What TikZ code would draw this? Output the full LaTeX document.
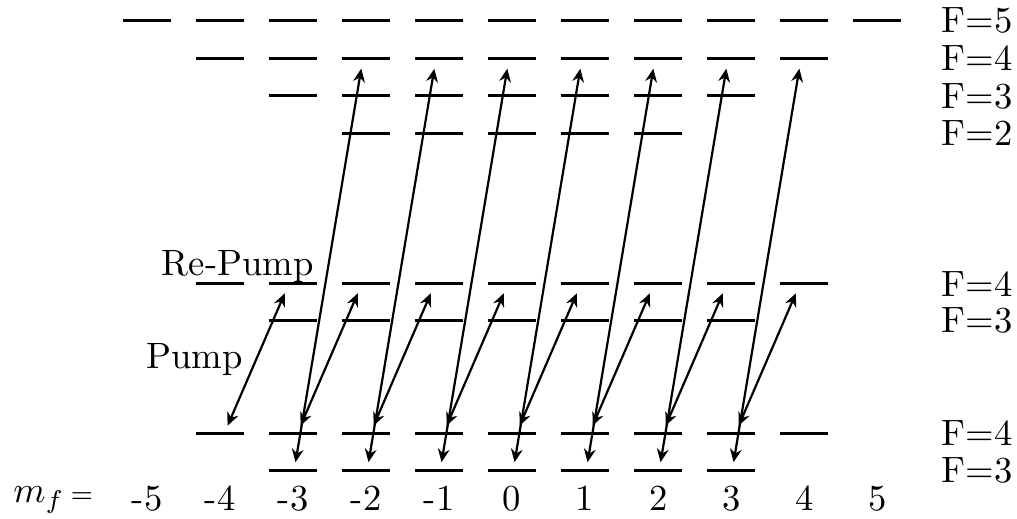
\documentclass[tikz,border=0pt]{standalone}
\usepackage{tikz}
\usetikzlibrary{arrows.meta}
\tikzset{
  hflevel/.style={line width=0.8pt},
  lasarr/.style={{Stealth[length=3.6pt,width=3.2pt]}-{Stealth[length=3.6pt,width=3.2pt]},
                 line width=0.6pt, shorten <=0.08cm, shorten >=0.1cm},
  flab/.style={anchor=west, inner sep=0pt},
  mflab/.style={anchor=base, inner sep=0pt},
}
\begin{document}
\begin{tikzpicture}[x=1cm,y=1cm]
\useasboundingbox (-4.91,-0.46) rectangle (4.84,4.51);
% sublevel centres
\foreach \m in {-5,...,5} \coordinate (e5x\m) at ({0.7*\m},4.31);
\foreach \m in {-4,...,4} {
  \coordinate (e4x\m) at ({0.7*\m},3.95);
  \coordinate (m4x\m) at ({0.7*\m},1.79);
  \coordinate (g4x\m) at ({0.7*\m},0.355);
}
\foreach \m in {-3,...,3} {
  \coordinate (e3x\m) at ({0.7*\m},3.59);
  \coordinate (m3x\m) at ({0.7*\m},1.44);
  \coordinate (g3x\m) at ({0.7*\m},0);
}
\foreach \m in {-2,...,2} \coordinate (e2x\m) at ({0.7*\m},3.23);
% levels
\foreach \m in {-5,...,5}
  \draw[hflevel] ([xshift=-0.23cm]e5x\m) -- ([xshift=0.23cm]e5x\m);
\foreach \m in {-4,...,4} {
  \draw[hflevel] ([xshift=-0.23cm]e4x\m) -- ([xshift=0.23cm]e4x\m);
  \draw[hflevel] ([xshift=-0.23cm]m4x\m) -- ([xshift=0.23cm]m4x\m);
  \draw[hflevel] ([xshift=-0.23cm]g4x\m) -- ([xshift=0.23cm]g4x\m);
}
\foreach \m in {-3,...,3} {
  \draw[hflevel] ([xshift=-0.23cm]e3x\m) -- ([xshift=0.23cm]e3x\m);
  \draw[hflevel] ([xshift=-0.23cm]m3x\m) -- ([xshift=0.23cm]m3x\m);
  \draw[hflevel] ([xshift=-0.23cm]g3x\m) -- ([xshift=0.23cm]g3x\m);
}
\foreach \m in {-2,...,2}
  \draw[hflevel] ([xshift=-0.23cm]e2x\m) -- ([xshift=0.23cm]e2x\m);
% pump and re-pump
\foreach \m [evaluate=\m as \n using int(\m+1)] in {-4,...,3}
  \draw[lasarr] ([xshift=0.04cm]g4x\m) -- ([xshift=-0.04cm]m4x\n);
\foreach \m [evaluate=\m as \n using int(\m+1)] in {-3,...,3}
  \draw[lasarr] ([xshift=0.01cm]g3x\m) -- ([xshift=-0.03cm]e4x\n);
\node[anchor=base, inner sep=0pt] (rp) at (-2.63,1.87) {Re-Pump};
\node[anchor=base, inner sep=0pt] (pp) at (-3.045,0.978) {Pump};
% labels
\node[flab] (lf5) at (4.11,4.31) {F=5};
\node[flab] (lf4) at (4.11,3.95) {F=4};
\node[flab] (lf3) at (4.11,3.59) {F=3};
\node[flab] (lf2) at (4.11,3.23) {F=2};
\node[flab] (lm4) at (4.11,1.79) {F=4};
\node[flab] (lm3) at (4.11,1.44) {F=3};
\node[flab] (lg4) at (4.11,0.355) {F=4};
\node[flab] (lg3) at (4.11,0) {F=3};
\foreach \m in {-5,...,5} \node[mflab] (mf\m) at ({0.7*\m},-0.385) {\m};
\node[anchor=base east, inner sep=0pt] (mfeq) at (-4.01,-0.31)
  {$m_f$\,{\scriptsize =}};
\end{tikzpicture}
\end{document}
